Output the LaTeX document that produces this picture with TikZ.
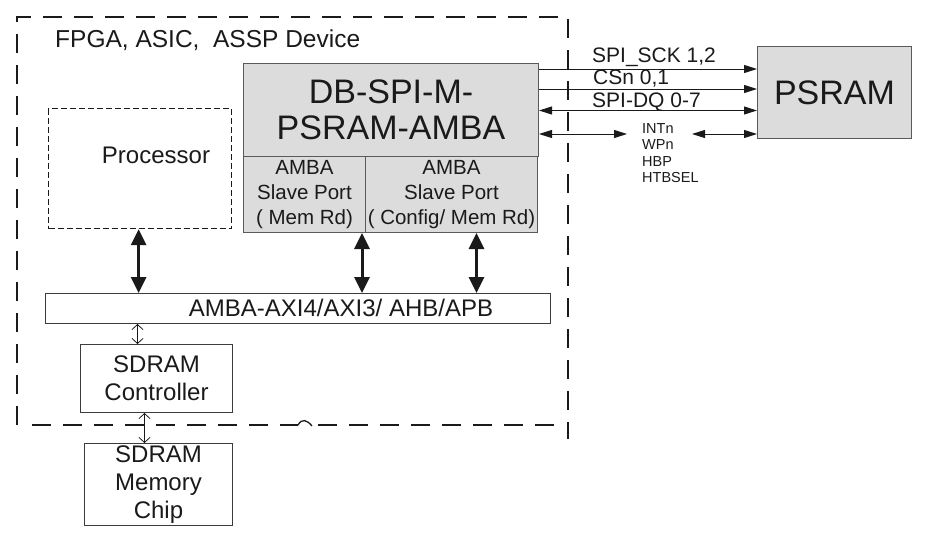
\documentclass[tikz,border=0pt]{standalone}
\usepackage{fontspec}
\setmainfont{Liberation Sans}
\usetikzlibrary{arrows.meta}
\definecolor{boxgray}{HTML}{DCDCDC}
\definecolor{edgegray}{HTML}{5A5A5A}
\definecolor{ink}{HTML}{1A1A1A}
\newcommand{\fs}[2]{\fontsize{#1}{#2}\selectfont}
\begin{document}
\begin{tikzpicture}[x=1pt,y=-1pt,
  box/.style={draw=edgegray, line width=1pt, anchor=north west, inner sep=0pt, align=center, text=ink},
  graybox/.style={box, fill=boxgray},
  outerdash/.style={draw=ink, line width=1.5pt, dash pattern=on 19pt off 12pt},
  procdash/.style={draw=ink, line width=1.2pt, dash pattern=on 6pt off 3pt},
  lbl/.style={inner sep=0pt, text=ink, align=center},
  bigarr/.style={draw=ink, line width=3pt, {Triangle[length=16pt,width=15pt]}-{Triangle[length=16pt,width=15pt]}},
  thinarr/.style={draw=ink, line width=0.8pt, {Straight Barb[length=5pt,width=11pt]}-{Straight Barb[length=5pt,width=11pt]}},
  sig/.style={draw=ink, line width=1pt, -{Triangle[length=13pt,width=8pt]}},
  sigboth/.style={draw=ink, line width=1pt, {Triangle[length=13pt,width=8pt]}-{Triangle[length=13pt,width=8pt]}}
]
\useasboundingbox (0,0) rectangle (925,546);

% outer device boundary
\draw[outerdash] (17,425) -- (17,17) -- (568,17) -- (568,439);
\draw[outerdash] (32,425) -- (298,425);
\draw[ink, line width=1.3pt] (298,425) .. controls (302,418) and (307,420) .. (312,426);
\draw[outerdash] (318,425) -- (560,425);

\node[lbl, anchor=west, font=\fs{24.5}{28}] (devlbl) at (55,40) {FPGA, ASIC,~~ASSP Device};

% processor
\node[procdash, anchor=north west, minimum width=183pt, minimum height=120pt, inner sep=0pt] (proc) at (48,108) {};
\node[lbl, font=\fs{24}{28}] (proclbl) at (156,155) {Processor};

% DB core
\node[graybox, minimum width=295pt, minimum height=93pt, font=\fs{34}{36}] (db) at (243,63) {DB-SPI-M-\\PSRAM-AMBA};
\node[graybox, minimum width=122pt, minimum height=76pt, font=\fs{20.5}{25}] (spl) at (243,156) {AMBA\\Slave Port\\( Mem Rd)};
\node[graybox, minimum width=172pt, minimum height=76pt, font=\fs{20.5}{25}] (spr) at (365,156) {AMBA\\Slave Port\\( Config/ Mem Rd)};

% bus
\node[box, draw=ink!85, minimum width=505pt, minimum height=30pt] (bus) at (45,293) {};
\node[lbl, font=\fs{24}{28}] (buslbl) at (341,308) {AMBA-AXI4/AXI3/ AHB/APB};

% SDRAM
\node[box, draw=ink!85, minimum width=152pt, minimum height=68pt, font=\fs{24}{28}] (ctrl) at (80,344) {SDRAM\\Controller};
\node[box, draw=ink!85, minimum width=148pt, minimum height=82pt, font=\fs{24}{28}] (chip) at (84,443) {SDRAM\\Memory\\Chip};

% PSRAM
\node[graybox, minimum width=154pt, minimum height=92pt, font=\fs{34}{36}] (psram) at (757,46) {PSRAM};

% bus arrows
\draw[bigarr] ([xshift=-1.5pt]proc.south) -- ([xshift=-1.5pt]proc.south |- bus.north);
\draw[bigarr] ([xshift=-4pt]spl.south east) -- ([xshift=-4pt]spl.south east |- bus.north);
\draw[bigarr] ([xshift=25pt]spr.south) -- ([xshift=25pt]spr.south |- bus.north);
\draw[thinarr] ([xshift=-19pt]ctrl.north |- bus.south) -- ([xshift=-19pt]ctrl.north);
\draw[thinarr] ([xshift=-12pt]ctrl.south) -- ([xshift=-12pt]ctrl.south |- chip.north);

% PSRAM signals
\draw[sig] ([yshift=-6pt]db.north east) -- ([yshift=-6pt]db.north east -| psram.west);
\draw[sig] ([yshift=-26pt]db.north east) -- ([yshift=-26pt]db.north east -| psram.west);
\draw[sigboth] ([yshift=-47.5pt]db.north east) -- ([yshift=-47.5pt]db.north east -| psram.west);
\coordinate (il) at (627,134);
\coordinate (ir) at (692,134);
\draw[sigboth] (db.east |- il) -- (il);
\draw[sigboth] (ir) -- (ir -| psram.west);

\node[lbl, anchor=west, font=\fs{21}{24}] (sckl) at (592,57) {SPI\_SCK 1,2};
\node[lbl, anchor=west, font=\fs{21}{24}] (csl) at (593,79) {CSn 0,1};
\node[lbl, anchor=west, font=\fs{21}{24}] (dql) at (592,102) {SPI-DQ 0-7};
\node[lbl, anchor=north west, align=left, font=\fs{14.5}{16.5}] (misc) at (642,123) {INTn\\WPn\\HBP\\HTBSEL};
\end{tikzpicture}
\end{document}
